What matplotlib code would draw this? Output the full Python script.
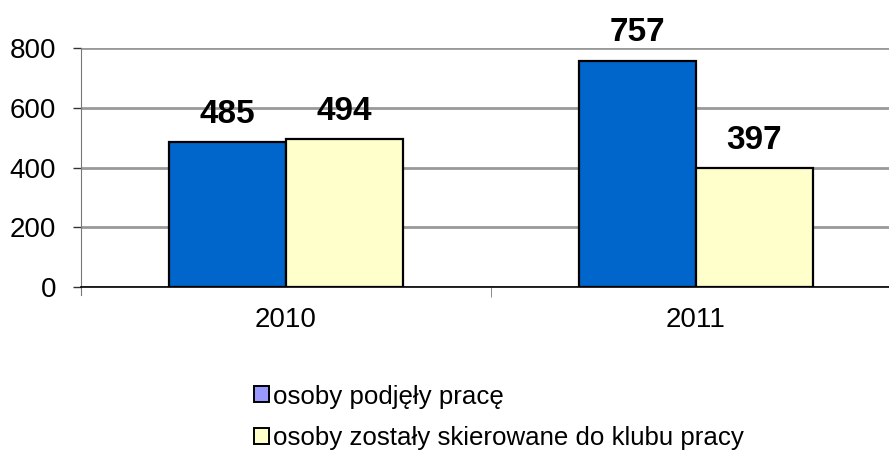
import numpy as np
from matplotlib import pyplot as plt
from matplotlib.patches import Patch

years = ['2010', '2011']
series_names = ['osoby podjęły pracę', 'osoby zostały skierowane do klubu pracy']
podjely = [485, 757]
klub = [494, 397]
y_ticks = [0, 200, 400, 600, 800]

plt.rcParams['font.family'] = ['Liberation Sans', 'DejaVu Sans']

fig = plt.figure(figsize=(8.89, 4.57), dpi=100)
ax = fig.add_axes([0.0911, 0.3713, 0.9089, 0.5243])

x = np.arange(len(years))
width = 0.285
bars1 = ax.bar(x - width / 2, podjely, width, color='#0066CC',
               edgecolor='black', linewidth=1.6, zorder=3)
bars2 = ax.bar(x + width / 2, klub, width, color='#FFFFCC',
               edgecolor='black', linewidth=1.6, zorder=3)

for bars, vals in [(bars1, podjely), (bars2, klub)]:
    for b, v in zip(bars, vals):
        ax.annotate(str(v), (b.get_x() + b.get_width() / 2, v),
                    xytext=(0, 9), textcoords='offset points',
                    ha='center', va='bottom', fontsize=24,
                    fontweight='bold', annotation_clip=False)

ax.set_ylim(0, 800)
ax.set_xlim(-0.5, 1.4707)
ax.set_yticks(y_ticks)
ax.yaxis.grid(True, color='#999999', linewidth=2, zorder=0)
ax.set_xticks(x)
ax.set_xticklabels(years)
ax.set_xticks([0.5], minor=True)
ax.tick_params(axis='x', which='major', length=0, pad=14, labelsize=20)
ax.tick_params(axis='x', which='minor', length=7, color='#777777')
ax.tick_params(axis='y', length=6, width=1, color='#333333',
               labelsize=20, pad=12)

for s in ['top', 'right']:
    ax.spines[s].set_visible(False)
ax.spines['left'].set_color('#777777')
ax.spines['left'].set_bounds(-25, 800)
ax.spines['bottom'].set_color('black')
ax.spines['bottom'].set_linewidth(1.2)

handles = [Patch(facecolor='#9999FF', edgecolor='black', linewidth=1.4),
           Patch(facecolor='#FFFFCC', edgecolor='black', linewidth=1.4)]
fig.legend(handles, series_names, loc='upper left',
           bbox_to_anchor=(0.2857, 0.1586), frameon=False, fontsize=18.6,
           handlelength=0.58, handleheight=0.58, handletextpad=0.15,
           labelspacing=0.68, borderpad=0, borderaxespad=0)

fig.savefig('out.png', dpi=100)
